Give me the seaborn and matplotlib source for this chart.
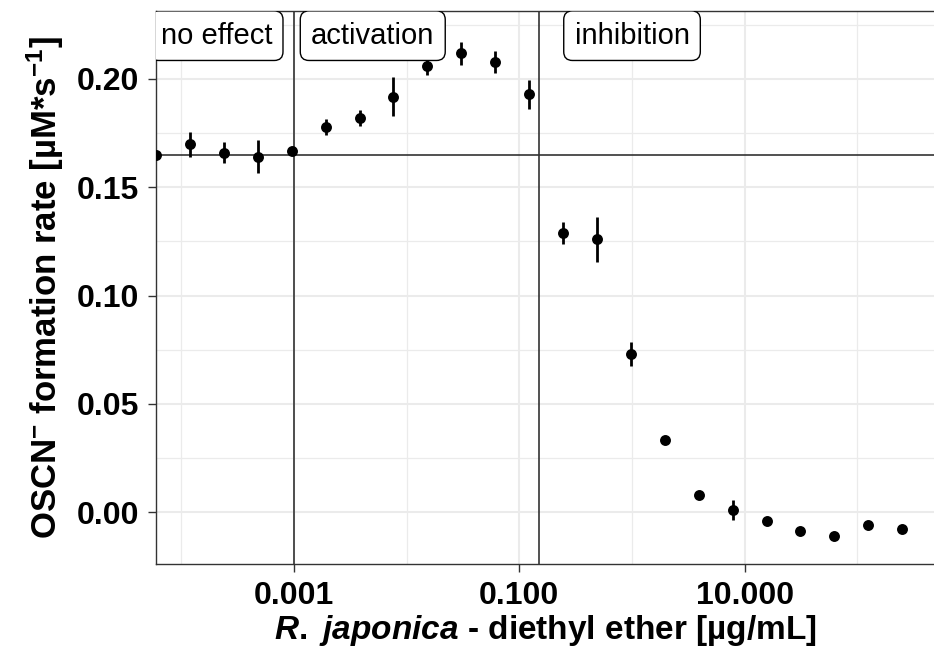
import numpy as np
import pandas as pd
import matplotlib
matplotlib.use("Agg")
import matplotlib.pyplot as plt
import seaborn as sns

# ---- data ----
conc = [250 / 2 ** k for k in range(22, -1, -1)]  # µg/mL, twofold dilution series
rate = [0.1650, 0.1699, 0.1659, 0.1641, 0.1668, 0.1779, 0.1819, 0.1918, 0.2060,
        0.2118, 0.2078, 0.1929, 0.1289, 0.1259, 0.0730, 0.0331, 0.0080, 0.0009,
        -0.0040, -0.0089, -0.0109, -0.0058, -0.0080]
err = [0.0005, 0.0058, 0.0048, 0.0075, 0.0008, 0.0036, 0.0037, 0.0089, 0.0041,
       0.0054, 0.0051, 0.0068, 0.0052, 0.0103, 0.0055, 0.0012, 0.0005, 0.0048,
       0.0005, 0.0005, 0.0005, 0.0005, 0.0012]
vlines = [0.001, 0.15]
hline = 0.165
region_labels = ["no effect", "activation", "inhibition"]
region_x = [0.000205, 0.005, 1.0]
region_y = 0.22
xticks = [0.001, 0.1, 10]
xtick_labels = ["0.001", "0.100", "10.000"]
yticks = [0.00, 0.05, 0.10, 0.15, 0.20]
ytick_labels = ["0.00", "0.05", "0.10", "0.15", "0.20"]

df = pd.DataFrame({"conc": conc, "rate": rate, "err": err})

sns.set_theme(style="white")
plt.rcParams["font.family"] = ["Liberation Sans", "DejaVu Sans"]
plt.rcParams["mathtext.fontset"] = "custom"
plt.rcParams["mathtext.rm"] = "Liberation Sans:bold"
plt.rcParams["mathtext.it"] = "Liberation Sans:italic:bold"
plt.rcParams["mathtext.bf"] = "Liberation Sans:bold"
plt.rcParams["mathtext.default"] = "regular"

fig = plt.figure(figsize=(9.34, 6.51), dpi=100)
W, H = 934, 651
ax = fig.add_axes([156 / W, 1 - 564 / H, (934 - 156) / W, (564 - 11) / H])

ax.set_xscale("log")
ax.set_xlim(conc[0], 10 ** 2.68)
ax.set_ylim(-0.024, 0.2314)

# grid
grid_c = "#EBEBEB"
for v in [1e-4, 1e-2, 1, 100]:
    ax.axvline(v, color=grid_c, lw=0.9, zorder=0)
for v in [1e-3, 1e-1, 10]:
    ax.axvline(v, color=grid_c, lw=1.5, zorder=0)
for v in [0.025, 0.075, 0.125, 0.175, 0.225]:
    ax.axhline(v, color=grid_c, lw=0.9, zorder=0)
for v in yticks:
    ax.axhline(v, color=grid_c, lw=1.5, zorder=0)

# reference lines
for v in vlines:
    ax.axvline(v, color="#333333", lw=1.2, zorder=1)
ax.axhline(hline, color="#333333", lw=1.2, zorder=1)

# error bars and points
ax.errorbar(df["conc"], df["rate"], yerr=df["err"], fmt="none",
            ecolor="black", elinewidth=2.0, capsize=0, zorder=2)
sns.scatterplot(data=df, x="conc", y="rate", ax=ax, color="black", s=62,
                edgecolor="black", linewidth=0, zorder=3, legend=False)

# region labels
for lab, xv in zip(region_labels, region_x):
    t = ax.text(xv, region_y, lab, ha="center", va="center", fontsize=21,
                color="black", zorder=4, clip_on=True,
                bbox=dict(boxstyle="round,pad=0.37,rounding_size=0.3",
                          fc="white", ec="black", lw=1.0))
    t.set_clip_box(ax.bbox)

ax.set_xticks(xticks)
ax.set_xticklabels(xtick_labels)
ax.xaxis.set_minor_locator(matplotlib.ticker.NullLocator())
ax.set_yticks(yticks)
ax.set_yticklabels(ytick_labels)
ax.tick_params(axis="both", which="major", labelsize=23, length=6, width=1.0,
               color="#333333", pad=6, labelcolor="black", direction="out",
               bottom=True, left=True)
for lbl in ax.get_xticklabels() + ax.get_yticklabels():
    lbl.set_fontweight("bold")

for s in ["left", "bottom", "top"]:
    ax.spines[s].set_color("#333333")
    ax.spines[s].set_linewidth(1.0)
ax.spines["right"].set_visible(False)

ax.set_xlabel(r"$\mathit{R.}$ $\mathit{japonica}$ - diethyl ether [µg/mL]",
              fontsize=24, fontweight="bold", color="black", labelpad=2)
ax.set_ylabel(r"OSCN$^{-}$ formation rate [µM*s$^{-1}$]",
              fontsize=25, fontweight="bold", color="black", labelpad=8)

fig.savefig("out.png", dpi=100)
